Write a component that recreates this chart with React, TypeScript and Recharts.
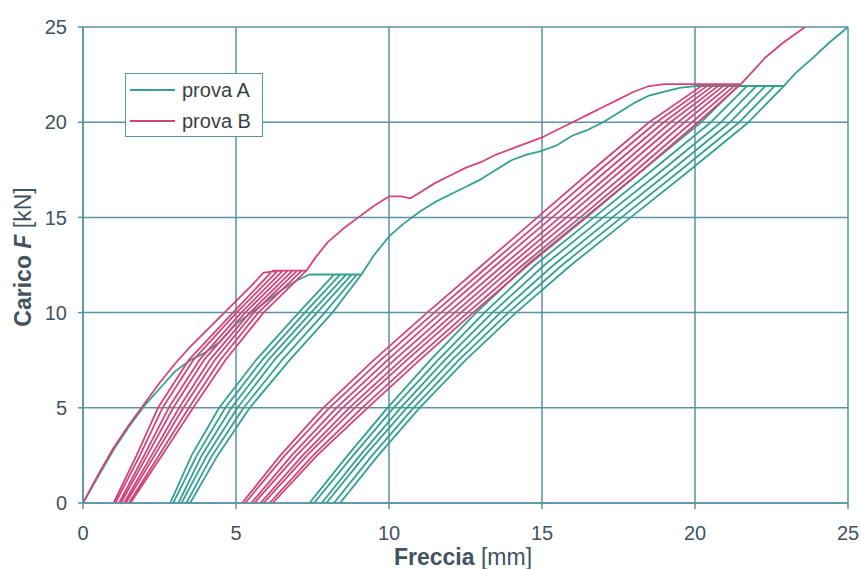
import React from "react";
import { LineChart, Line, XAxis, YAxis, CartesianGrid } from "recharts";

// assi
const ticksX = [0, 5, 10, 15, 20, 25];
const ticksY = [0, 5, 10, 15, 20, 25];

// prova A (verde) - curva di primo carico fino a 12 kN
const caricoA1 = [
  [0, 0], [0.5, 1.4], [1, 2.8], [1.5, 4.0], [2, 5.1], [2.5, 6.0], [3, 6.9],
  [3.5, 7.5], [4, 7.9], [4.5, 8.5], [5, 9.4], [5.5, 10.0], [6, 10.6],
  [6.5, 11.2], [7, 11.7], [7.4, 12.0], [8.3, 12.0], [9.1, 12.0],
];
// cicli a 12 kN: ascisse lette ai livelli di carico
const livelliA1 = [0, 2.5, 5, 7.5, 10, 12];
const cicliA1 = [
  [2.85, 3.55, 4.45, 5.65, 7.05, 8.2],
  [2.95, 3.72, 4.65, 5.85, 7.25, 8.4],
  [3.12, 3.88, 4.85, 6.05, 7.45, 8.6],
  [3.22, 4.05, 5.05, 6.25, 7.65, 8.78],
  [3.38, 4.22, 5.25, 6.5, 7.9, 8.95],
  [3.5, 4.4, 5.45, 6.75, 8.15, 9.1],
];
const caricoA2 = [
  [9.1, 12.0], [9.5, 13.0], [10, 14.0], [10.5, 14.7], [11, 15.3], [11.5, 15.8],
  [12, 16.2], [12.5, 16.6], [13, 17.0], [13.5, 17.5], [14, 18.0], [14.5, 18.3],
  [15, 18.5], [15.5, 18.8], [16, 19.3], [16.5, 19.6], [17, 20.0], [17.5, 20.5],
  [18, 21.0], [18.5, 21.4], [19, 21.6], [19.5, 21.8], [20, 21.9], [21, 21.9],
  [22.9, 21.9],
];
const livelliA2 = [0, 2.5, 5, 7.5, 10, 12.5, 15, 17.5, 20, 21.9];
const cicliA2 = [
  [7.4, 8.65, 9.95, 11.35, 12.85, 14.5, 16.4, 18.3, 20.2, 21.4],
  [7.55, 8.83, 10.15, 11.6, 13.12, 14.78, 16.7, 18.62, 20.52, 21.7],
  [7.8, 9.05, 10.38, 11.82, 13.38, 15.08, 17.0, 18.95, 20.85, 22.0],
  [7.95, 9.22, 10.58, 12.05, 13.64, 15.38, 17.3, 19.25, 21.15, 22.3],
  [8.2, 9.45, 10.8, 12.28, 13.9, 15.66, 17.6, 19.55, 21.45, 22.6],
  [8.4, 9.65, 11.0, 12.5, 14.15, 15.95, 17.9, 19.85, 21.75, 22.9],
];
const caricoA3 = [[22.9, 21.9], [23.3, 22.6], [23.8, 23.3], [24.4, 24.2], [25, 25]];

// prova B (rossa)
const caricoB1 = [
  [0, 0], [0.5, 1.5], [1, 2.9], [1.5, 4.1], [2, 5.2], [2.5, 6.3], [3, 7.3],
  [3.5, 8.2], [4, 9.0], [4.5, 9.8], [5, 10.6], [5.5, 11.4], [5.9, 12.1],
  [6.5, 12.2], [7.3, 12.2],
];
const livelliB1 = [0, 2.5, 5, 7.5, 10, 12.2];
const cicliB1 = [
  [1.0, 1.75, 2.45, 3.45, 4.9, 6.2],
  [1.06, 1.86, 2.6, 3.6, 5.02, 6.37],
  [1.18, 2.0, 2.8, 3.8, 5.17, 6.53],
  [1.24, 2.1, 2.95, 3.95, 5.3, 6.69],
  [1.34, 2.24, 3.14, 4.14, 5.45, 6.85],
  [1.4, 2.34, 3.28, 4.3, 5.58, 7.0],
  [1.5, 2.48, 3.46, 4.48, 5.73, 7.15],
  [1.55, 2.58, 3.6, 4.65, 5.9, 7.3],
];
const caricoB2 = [
  [7.3, 12.2], [7.6, 12.9], [8, 13.7], [8.5, 14.4], [9, 15.0], [9.5, 15.6],
  [10, 16.1], [10.4, 16.1], [10.7, 16.0], [11, 16.3], [11.5, 16.8], [12, 17.2],
  [12.5, 17.6], [13, 17.9], [13.5, 18.3], [14, 18.6], [14.5, 18.9], [15, 19.2],
  [15.5, 19.6], [16, 20.0], [16.5, 20.4], [17, 20.8], [17.5, 21.2], [18, 21.6],
  [18.5, 21.9], [19, 22.0], [20, 22.0], [21.5, 22.0],
];
const livelliB2 = [0, 2.5, 5, 7.5, 10, 12.5, 15, 17.5, 20, 22];
const cicliB2 = [
  [5.2, 6.45, 7.85, 9.5, 11.25, 13.05, 14.85, 16.65, 18.5, 20.3],
  [5.3, 6.6, 8.05, 9.72, 11.48, 13.28, 15.1, 16.9, 18.74, 20.48],
  [5.5, 6.82, 8.28, 9.95, 11.7, 13.5, 15.33, 17.15, 18.98, 20.66],
  [5.6, 6.98, 8.48, 10.17, 11.93, 13.74, 15.58, 17.4, 19.2, 20.84],
  [5.8, 7.18, 8.7, 10.4, 12.15, 13.95, 15.8, 17.62, 19.44, 21.0],
  [5.9, 7.32, 8.88, 10.58, 12.35, 14.15, 16.03, 17.88, 19.66, 21.18],
  [6.1, 7.52, 9.12, 10.82, 12.57, 14.37, 16.25, 18.1, 19.9, 21.35],
  [6.2, 7.65, 9.3, 11.0, 12.75, 14.55, 16.45, 18.3, 20.1, 21.5],
];
const caricoB3 = [[21.5, 22.0], [21.9, 22.7], [22.3, 23.4], [22.9, 24.2], [23.6, 25]];

const coloreA = "#33a093";
const coloreB = "#d2457a";
const coloreGriglia = "#5a92a6";
const coloreTesto = "#44525f";

type Punto = { x: number; y: number };

const tratto = (pts: number[][]): Punto[] => pts.map(([x, y]) => ({ x, y }));

// scarico (dall'alto) e ricarico (dal basso) alternati
const cicli = (righe: number[][], livelli: number[]): Punto[] =>
  righe.flatMap((riga, i) => {
    const p = riga.map((x, k) => ({ x, y: livelli[k] }));
    return i % 2 === 0 ? p.reverse() : p;
  });

const provaA = [
  ...tratto(caricoA1),
  ...cicli(cicliA1, livelliA1),
  ...tratto(caricoA2),
  ...cicli(cicliA2, livelliA2),
  ...tratto(caricoA3),
];
const provaB = [
  ...tratto(caricoB1),
  ...cicli(cicliB1, livelliB1),
  ...tratto(caricoB2),
  ...cicli(cicliB2, livelliB2),
  ...tratto(caricoB3),
];

const serie = [
  { nome: "prova A", colore: coloreA, dati: provaA },
  { nome: "prova B", colore: coloreB, dati: provaB },
];

const titoloY = () => (
  <text
    x={31}
    y={257}
    transform="rotate(-90, 31, 257)"
    textAnchor="middle"
    fontSize={23}
    fill={coloreTesto}
    fontFamily="Liberation Sans, Arial, sans-serif"
  >
    <tspan fontWeight="bold">Carico </tspan>
    <tspan fontWeight="bold" fontStyle="italic">F</tspan>
    <tspan> [kN]</tspan>
  </text>
);

const titoloX = () => (
  <text
    x={463}
    y={565}
    textAnchor="middle"
    fontSize={23}
    fill={coloreTesto}
    fontFamily="Liberation Sans, Arial, sans-serif"
  >
    <tspan fontWeight="bold">Freccia</tspan>
    <tspan> [mm]</tspan>
  </text>
);

export default function App() {
  const font = "Liberation Sans, Arial, sans-serif";
  return (
    <div style={{ position: "absolute", left: 0, top: 0, width: 861, height: 569, background: "#fff", fontFamily: font }}>
      <LineChart width={861} height={569} margin={{ top: 27, right: 13, left: 0, bottom: 0 }}>
        <CartesianGrid stroke={coloreGriglia} strokeWidth={1.5} />
        <XAxis
          type="number"
          dataKey="x"
          domain={[0, 25]}
          ticks={ticksX}
          allowDataOverflow
          height={66}
          tickSize={6}
          tickMargin={17}
          stroke={coloreGriglia}
          strokeWidth={1.5}
          tick={{ fill: coloreTesto, fontSize: 20, fontFamily: font }}
          label={{ content: titoloX }}
        />
        <YAxis
          type="number"
          dataKey="y"
          domain={[0, 25]}
          ticks={ticksY}
          allowDataOverflow
          width={83}
          tickSize={5}
          tickMargin={11}
          stroke={coloreGriglia}
          strokeWidth={1.5}
          tick={{ fill: coloreTesto, fontSize: 20, fontFamily: font }}
          label={{ content: titoloY }}
        />
        {serie.map((s) => (
          <Line
            key={s.nome}
            name={s.nome}
            data={s.dati}
            dataKey="y"
            type="linear"
            stroke={s.colore}
            strokeWidth={1.8}
            strokeLinejoin="round"
            dot={false}
            isAnimationActive={false}
          />
        ))}
      </LineChart>
      {/* legenda in alto a sinistra, dentro l'area del grafico */}
      <div
        style={{
          position: "absolute",
          left: 125,
          top: 73,
          width: 136,
          height: 62,
          border: `1.5px solid ${coloreGriglia}`,
          background: "#fff",
        }}
      >
        {serie.map((s, i) => (
          <div
            key={s.nome}
            style={{ position: "absolute", left: 4, top: 4 + i * 31, height: 24, display: "flex", alignItems: "center" }}
          >
            <div style={{ width: 45, height: 2, background: s.colore, marginRight: 7 }} />
            <span style={{ fontSize: 20, color: "#3a3f45" }}>{s.nome}</span>
          </div>
        ))}
      </div>
    </div>
  );
}
